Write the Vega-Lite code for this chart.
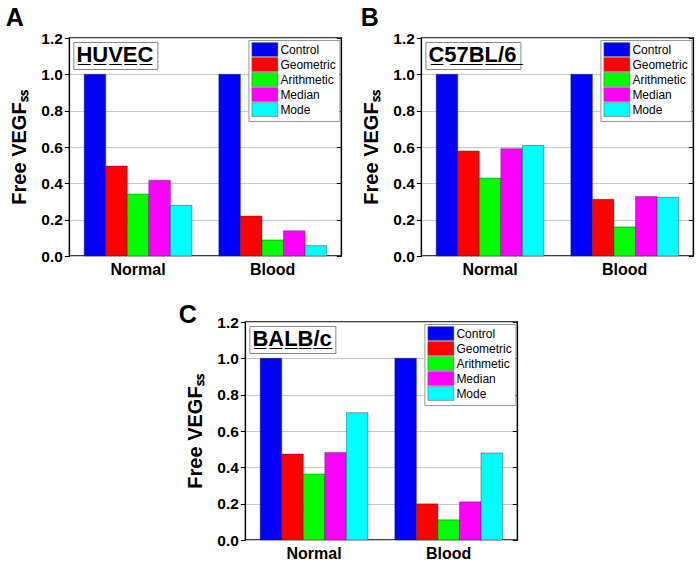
{
  "$schema": "https://vega.github.io/schema/vega-lite/v6.json",
  "background": "white",
  "padding": {"left": 5, "top": 5, "right": 5, "bottom": 2},
  "datasets": {
    "A": [
      {"group": "Normal", "series": "Control", "value": 1.0},
      {"group": "Normal", "series": "Geometric", "value": 0.495},
      {"group": "Normal", "series": "Arithmetic", "value": 0.341},
      {"group": "Normal", "series": "Median", "value": 0.417},
      {"group": "Normal", "series": "Mode", "value": 0.279},
      {"group": "Blood", "series": "Control", "value": 1.0},
      {"group": "Blood", "series": "Geometric", "value": 0.22},
      {"group": "Blood", "series": "Arithmetic", "value": 0.088},
      {"group": "Blood", "series": "Median", "value": 0.139},
      {"group": "Blood", "series": "Mode", "value": 0.057}
    ],
    "B": [
      {"group": "Normal", "series": "Control", "value": 1.0},
      {"group": "Normal", "series": "Geometric", "value": 0.578},
      {"group": "Normal", "series": "Arithmetic", "value": 0.429},
      {"group": "Normal", "series": "Median", "value": 0.591},
      {"group": "Normal", "series": "Mode", "value": 0.609},
      {"group": "Blood", "series": "Control", "value": 1.0},
      {"group": "Blood", "series": "Geometric", "value": 0.312},
      {"group": "Blood", "series": "Arithmetic", "value": 0.16},
      {"group": "Blood", "series": "Median", "value": 0.327},
      {"group": "Blood", "series": "Mode", "value": 0.323}
    ],
    "C": [
      {"group": "Normal", "series": "Control", "value": 1.0},
      {"group": "Normal", "series": "Geometric", "value": 0.473},
      {"group": "Normal", "series": "Arithmetic", "value": 0.363},
      {"group": "Normal", "series": "Median", "value": 0.482},
      {"group": "Normal", "series": "Mode", "value": 0.701},
      {"group": "Blood", "series": "Control", "value": 1.0},
      {"group": "Blood", "series": "Geometric", "value": 0.199},
      {"group": "Blood", "series": "Arithmetic", "value": 0.111},
      {"group": "Blood", "series": "Median", "value": 0.21},
      {"group": "Blood", "series": "Mode", "value": 0.479}
    ]
  },
  "config": {
    "font": "Liberation Sans",
    "view": {"stroke": "black", "strokeWidth": 1.5},
    "axisY": {
      "values": [0, 0.1, 0.2, 0.3, 0.4, 0.5, 0.6, 0.7, 0.8, 0.9, 1.0, 1.1, 1.2],
      "labelExpr": "round(datum.value*10) % 2 == 0 ? format(datum.value, '.1f') : ''",
      "gridColor": "#c8c8c8",
      "domain": false,
      "tickColor": "black",
      "labelFontSize": 15.5,
      "labelFontWeight": "bold",
      "labelColor": "black",
      "labelPadding": 2,
      "titleFontSize": 20,
      "titleFontWeight": "bold",
      "titleColor": "black",
      "titlePadding": 11
    },
    "axisX": {
      "labelAngle": 0,
      "ticks": false,
      "domain": false,
      "labelFontSize": 16,
      "labelFontWeight": "bold",
      "labelColor": "black",
      "labelPadding": 5
    },
    "legend": {
      "labelFont": "Liberation Sans",
      "labelFontSize": 12,
      "labelColor": "black"
    },
    "title": {"fontSize": 25, "fontWeight": "bold", "anchor": "start", "frame": "bounds", "color": "black"}
  },
  "resolve": {
    "scale": {"color": "independent", "strokeDash": "independent"},
    "legend": {"color": "independent", "strokeDash": "independent"}
  },
  "spacing": 24,
  "center": true,
  "vconcat": [
    {
      "resolve": {
        "scale": {"color": "independent", "strokeDash": "independent"},
        "legend": {"color": "independent", "strokeDash": "independent"}
      },
      "spacing": 16,
      "hconcat": [
        {
          "width": 272,
          "height": 218,
          "title": {"text": "A", "offset": 0, "dx": -4},
          "data": {"name": "A"},
          "encoding": {
            "x": {"field": "group", "type": "nominal", "sort": ["Normal", "Blood"], "title": null, "scale": {"paddingInner": 0.2, "paddingOuter": 0.11}},
            "xOffset": {"field": "series", "type": "nominal", "sort": ["Control", "Geometric", "Arithmetic", "Median", "Mode"], "scale": {"paddingInner": 0, "paddingOuter": 0}}
          },
          "layer": [
            {
              "mark": {"type": "bar", "stroke": "#222", "strokeOpacity": 0.6, "strokeWidth": 0.7},
              "encoding": {
                "y": {"field": "value", "type": "quantitative", "title": "Free VEGFₛₛ", "scale": {"domain": [0, 1.2], "nice": false}, "axis": {"orient": "left", "grid": true, "tickSize": {"condition": {"test": "round(datum.value*10) % 2 == 0", "value": 5}, "value": 3}}},
                "color": {
                  "field": "series", "type": "nominal",
                  "scale": {"domain": ["Control", "Geometric", "Arithmetic", "Median", "Mode"], "range": ["#0000ff", "#ff0000", "#00ff00", "#ff00ff", "#00ffff"]},
                  "legend": {"title": null, "orient": "top-right", "offset": 2, "padding": 3, "strokeColor": "#999", "fillColor": "white", "symbolType": "M-1,-1.15L3.33,-1.15L3.33,1.15L-1,1.15Z", "symbolSize": 144, "symbolStrokeWidth": 0.5, "symbolStrokeColor": "#555", "symbolOpacity": 1, "rowPadding": -5, "labelOffset": 16}
                },
                "strokeDash": {
                  "field": "group", "type": "nominal",
                  "scale": {"range": [[1, 0], [1, 0]]},
                  "legend": {"title": "H̲U̲V̲E̲C̲", "values": [], "orient": "top-left", "offset": 4, "padding": 3, "strokeColor": "#888", "fillColor": "white", "titleFontSize": 22, "titleFontWeight": "bold", "titleColor": "black", "titlePadding": 0}
                }
              }
            },
            {
              "mark": {"type": "bar", "opacity": 0},
              "encoding": {
                "y": {"field": "value", "type": "quantitative", "axis": {"orient": "right", "title": null, "labels": false, "grid": false, "domain": false, "tickSize": {"condition": {"test": "round(datum.value*10) % 2 == 0", "value": -5}, "value": -3}}}
              }
            }
          ]
        },
        {
          "width": 272,
          "height": 218,
          "title": {"text": "B", "offset": 0, "dx": -1},
          "data": {"name": "B"},
          "encoding": {
            "x": {"field": "group", "type": "nominal", "sort": ["Normal", "Blood"], "title": null, "scale": {"paddingInner": 0.2, "paddingOuter": 0.11}},
            "xOffset": {"field": "series", "type": "nominal", "sort": ["Control", "Geometric", "Arithmetic", "Median", "Mode"], "scale": {"paddingInner": 0, "paddingOuter": 0}}
          },
          "layer": [
            {
              "mark": {"type": "bar", "stroke": "#222", "strokeOpacity": 0.6, "strokeWidth": 0.7},
              "encoding": {
                "y": {"field": "value", "type": "quantitative", "title": "Free VEGFₛₛ", "scale": {"domain": [0, 1.2], "nice": false}, "axis": {"orient": "left", "grid": true, "tickSize": {"condition": {"test": "round(datum.value*10) % 2 == 0", "value": 5}, "value": 3}}},
                "color": {
                  "field": "series", "type": "nominal",
                  "scale": {"domain": ["Control", "Geometric", "Arithmetic", "Median", "Mode"], "range": ["#0000ff", "#ff0000", "#00ff00", "#ff00ff", "#00ffff"]},
                  "legend": {"title": null, "orient": "top-right", "offset": 2, "padding": 3, "strokeColor": "#999", "fillColor": "white", "symbolType": "M-1,-1.15L3.33,-1.15L3.33,1.15L-1,1.15Z", "symbolSize": 144, "symbolStrokeWidth": 0.5, "symbolStrokeColor": "#555", "symbolOpacity": 1, "rowPadding": -5, "labelOffset": 16}
                },
                "strokeDash": {
                  "field": "group", "type": "nominal",
                  "scale": {"range": [[1, 0], [1, 0]]},
                  "legend": {"title": "C̲5̲7̲B̲L̲/̲6̲", "values": [], "orient": "top-left", "offset": 4, "padding": 3, "strokeColor": "#888", "fillColor": "white", "titleFontSize": 22, "titleFontWeight": "bold", "titleColor": "black", "titlePadding": 0}
                }
              }
            },
            {
              "mark": {"type": "bar", "opacity": 0},
              "encoding": {
                "y": {"field": "value", "type": "quantitative", "axis": {"orient": "right", "title": null, "labels": false, "grid": false, "domain": false, "tickSize": {"condition": {"test": "round(datum.value*10) % 2 == 0", "value": -5}, "value": -3}}}
              }
            }
          ]
        }
      ]
    },
    {
      "width": 272,
      "height": 218,
      "title": {"text": "C", "offset": -13, "dx": -7},
      "data": {"name": "C"},
      "encoding": {
        "x": {"field": "group", "type": "nominal", "sort": ["Normal", "Blood"], "title": null, "scale": {"paddingInner": 0.2, "paddingOuter": 0.11}},
        "xOffset": {"field": "series", "type": "nominal", "sort": ["Control", "Geometric", "Arithmetic", "Median", "Mode"], "scale": {"paddingInner": 0, "paddingOuter": 0}}
      },
      "layer": [
        {
          "mark": {"type": "bar", "stroke": "#222", "strokeOpacity": 0.6, "strokeWidth": 0.7},
          "encoding": {
            "y": {"field": "value", "type": "quantitative", "title": "Free VEGFₛₛ", "scale": {"domain": [0, 1.2], "nice": false}, "axis": {"orient": "left", "grid": true, "tickSize": {"condition": {"test": "round(datum.value*10) % 2 == 0", "value": 5}, "value": 3}}},
            "color": {
              "field": "series", "type": "nominal",
              "scale": {"domain": ["Control", "Geometric", "Arithmetic", "Median", "Mode"], "range": ["#0000ff", "#ff0000", "#00ff00", "#ff00ff", "#00ffff"]},
              "legend": {"title": null, "orient": "top-right", "offset": 2, "padding": 3, "strokeColor": "#999", "fillColor": "white", "symbolType": "M-1,-1.15L3.33,-1.15L3.33,1.15L-1,1.15Z", "symbolSize": 144, "symbolStrokeWidth": 0.5, "symbolStrokeColor": "#555", "symbolOpacity": 1, "rowPadding": -5, "labelOffset": 16}
            },
            "strokeDash": {
              "field": "group", "type": "nominal",
              "scale": {"range": [[1, 0], [1, 0]]},
              "legend": {"title": "B̲A̲L̲B̲/̲c̲", "values": [], "orient": "top-left", "offset": 4, "padding": 3, "strokeColor": "#888", "fillColor": "white", "titleFontSize": 22, "titleFontWeight": "bold", "titleColor": "black", "titlePadding": 0}
            }
          }
        },
        {
          "mark": {"type": "bar", "opacity": 0},
          "encoding": {
            "y": {"field": "value", "type": "quantitative", "axis": {"orient": "right", "title": null, "labels": false, "grid": false, "domain": false, "tickSize": {"condition": {"test": "round(datum.value*10) % 2 == 0", "value": -5}, "value": -3}}}
          }
        }
      ]
    }
  ]
}
